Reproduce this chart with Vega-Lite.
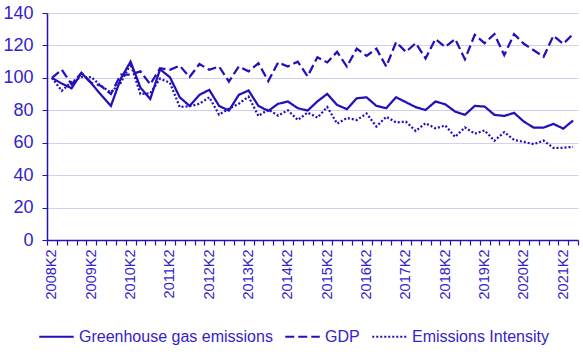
{
  "$schema": "https://vega.github.io/schema/vega-lite/v6.json",
  "width": 531,
  "height": 227,
  "autosize": {"type": "none"},
  "padding": {"left": 47, "top": 13, "right": 5, "bottom": 120},
  "background": "white",
  "config": {"view": {"stroke": null}, "font": "Liberation Sans"},
  "data": {"values": [
    {"q": "2008K2", "Greenhouse gas emissions": 100, "GDP": 100, "Emissions Intensity": 100},
    {"q": "2008K3", "Greenhouse gas emissions": 96.5, "GDP": 105, "Emissions Intensity": 92},
    {"q": "2008K4", "Greenhouse gas emissions": 93.6, "GDP": 96, "Emissions Intensity": 97.5},
    {"q": "2009K1", "Greenhouse gas emissions": 103, "GDP": 103, "Emissions Intensity": 100.5},
    {"q": "2009K2", "Greenhouse gas emissions": 96.7, "GDP": 97, "Emissions Intensity": 100.5},
    {"q": "2009K3", "Greenhouse gas emissions": 89.5, "GDP": 95, "Emissions Intensity": 95},
    {"q": "2009K4", "Greenhouse gas emissions": 82.7, "GDP": 90, "Emissions Intensity": 91},
    {"q": "2010K1", "Greenhouse gas emissions": 99.5, "GDP": 102, "Emissions Intensity": 97},
    {"q": "2010K2", "Greenhouse gas emissions": 110, "GDP": 102, "Emissions Intensity": 108.5},
    {"q": "2010K3", "Greenhouse gas emissions": 94, "GDP": 104, "Emissions Intensity": 90},
    {"q": "2010K4", "Greenhouse gas emissions": 87, "GDP": 96, "Emissions Intensity": 90.5},
    {"q": "2011K1", "Greenhouse gas emissions": 105.3, "GDP": 106, "Emissions Intensity": 99.5},
    {"q": "2011K2", "Greenhouse gas emissions": 100.4, "GDP": 105, "Emissions Intensity": 97},
    {"q": "2011K3", "Greenhouse gas emissions": 88, "GDP": 107.5, "Emissions Intensity": 82},
    {"q": "2011K4", "Greenhouse gas emissions": 82.7, "GDP": 100.5, "Emissions Intensity": 82.5},
    {"q": "2012K1", "Greenhouse gas emissions": 89.5, "GDP": 108.5, "Emissions Intensity": 84},
    {"q": "2012K2", "Greenhouse gas emissions": 92.6, "GDP": 105, "Emissions Intensity": 88},
    {"q": "2012K3", "Greenhouse gas emissions": 82.7, "GDP": 107, "Emissions Intensity": 77.3},
    {"q": "2012K4", "Greenhouse gas emissions": 79.8, "GDP": 97.7, "Emissions Intensity": 81},
    {"q": "2013K1", "Greenhouse gas emissions": 89.5, "GDP": 107, "Emissions Intensity": 84},
    {"q": "2013K2", "Greenhouse gas emissions": 92.2, "GDP": 104, "Emissions Intensity": 88.4},
    {"q": "2013K3", "Greenhouse gas emissions": 82.7, "GDP": 109, "Emissions Intensity": 76.5},
    {"q": "2013K4", "Greenhouse gas emissions": 79.6, "GDP": 98, "Emissions Intensity": 80.5},
    {"q": "2014K1", "Greenhouse gas emissions": 84, "GDP": 109.5, "Emissions Intensity": 76.7},
    {"q": "2014K2", "Greenhouse gas emissions": 85.4, "GDP": 107, "Emissions Intensity": 80},
    {"q": "2014K3", "Greenhouse gas emissions": 81.3, "GDP": 110, "Emissions Intensity": 74},
    {"q": "2014K4", "Greenhouse gas emissions": 79.8, "GDP": 101, "Emissions Intensity": 78.6},
    {"q": "2015K1", "Greenhouse gas emissions": 85.5, "GDP": 112.7, "Emissions Intensity": 75.5},
    {"q": "2015K2", "Greenhouse gas emissions": 90.1, "GDP": 109.5, "Emissions Intensity": 82},
    {"q": "2015K3", "Greenhouse gas emissions": 83.3, "GDP": 116, "Emissions Intensity": 71.8},
    {"q": "2015K4", "Greenhouse gas emissions": 80.7, "GDP": 107, "Emissions Intensity": 75.3},
    {"q": "2016K1", "Greenhouse gas emissions": 87.4, "GDP": 118, "Emissions Intensity": 74},
    {"q": "2016K2", "Greenhouse gas emissions": 88, "GDP": 113.6, "Emissions Intensity": 78},
    {"q": "2016K3", "Greenhouse gas emissions": 82.7, "GDP": 118, "Emissions Intensity": 70},
    {"q": "2016K4", "Greenhouse gas emissions": 81.3, "GDP": 107, "Emissions Intensity": 76},
    {"q": "2017K1", "Greenhouse gas emissions": 88, "GDP": 122, "Emissions Intensity": 72.5},
    {"q": "2017K2", "Greenhouse gas emissions": 85, "GDP": 116, "Emissions Intensity": 73},
    {"q": "2017K3", "Greenhouse gas emissions": 81.9, "GDP": 121.4, "Emissions Intensity": 67.2},
    {"q": "2017K4", "Greenhouse gas emissions": 80.2, "GDP": 112, "Emissions Intensity": 72},
    {"q": "2018K1", "Greenhouse gas emissions": 85.4, "GDP": 124, "Emissions Intensity": 68.9},
    {"q": "2018K2", "Greenhouse gas emissions": 83.7, "GDP": 119, "Emissions Intensity": 70.6},
    {"q": "2018K3", "Greenhouse gas emissions": 79.2, "GDP": 124, "Emissions Intensity": 63.6},
    {"q": "2018K4", "Greenhouse gas emissions": 77.2, "GDP": 111.5, "Emissions Intensity": 69.4},
    {"q": "2019K1", "Greenhouse gas emissions": 82.7, "GDP": 126.5, "Emissions Intensity": 65.6},
    {"q": "2019K2", "Greenhouse gas emissions": 82.3, "GDP": 121.4, "Emissions Intensity": 67.6},
    {"q": "2019K3", "Greenhouse gas emissions": 77.2, "GDP": 127, "Emissions Intensity": 61.2},
    {"q": "2019K4", "Greenhouse gas emissions": 76.5, "GDP": 114, "Emissions Intensity": 66.5},
    {"q": "2020K1", "Greenhouse gas emissions": 78.4, "GDP": 127, "Emissions Intensity": 61.7},
    {"q": "2020K2", "Greenhouse gas emissions": 73, "GDP": 121, "Emissions Intensity": 60.5},
    {"q": "2020K3", "Greenhouse gas emissions": 69.3, "GDP": 117, "Emissions Intensity": 59.1},
    {"q": "2020K4", "Greenhouse gas emissions": 69.3, "GDP": 113, "Emissions Intensity": 61.3},
    {"q": "2021K1", "Greenhouse gas emissions": 71.6, "GDP": 126, "Emissions Intensity": 56.8},
    {"q": "2021K2", "Greenhouse gas emissions": 68.7, "GDP": 121, "Emissions Intensity": 56.9},
    {"q": "2021K3", "Greenhouse gas emissions": 73.7, "GDP": 127, "Emissions Intensity": 57.5}
  ]},
  "transform": [
    {"fold": ["Greenhouse gas emissions", "GDP", "Emissions Intensity"], "as": ["series", "value"]}
  ],
  "mark": {"type": "line", "color": "#2211BB", "strokeWidth": 2.25},
  "encoding": {
    "x": {
      "field": "q",
      "type": "ordinal",
      "sort": null,
      "scale": {"type": "band", "paddingInner": 0, "paddingOuter": 0},
      "axis": {
        "title": null,
        "tickBand": "extent",
        "labelAngle": -90,
        "labelExpr": "test(/K2/, '' + datum.value) ? datum.label : ''",
        "labelOverlap": false,
        "labelFont": "Liberation Sans",
        "labelFontSize": 14.5,
        "labelColor": "#3322CC",
        "labelPadding": 4,
        "tickSize": 5,
        "tickColor": "#2211BB",
        "domainColor": "#2211BB",
        "domainWidth": 1.5,
        "tickWidth": 1.2,
        "grid": false
      }
    },
    "y": {
      "field": "value",
      "type": "quantitative",
      "scale": {"domain": [0, 140], "nice": false},
      "axis": {
        "title": null,
        "values": [0, 20, 40, 60, 80, 100, 120, 140],
        "grid": true,
        "gridColor": "#D2D0EE",
        "gridWidth": 1.2,
        "labelFont": "Liberation Sans",
        "labelFontSize": 18,
        "labelColor": "#3322CC",
        "labelPadding": 9,
        "tickSize": 5,
        "tickColor": "#2211BB",
        "domainColor": "#2211BB",
        "domainWidth": 1.5
      }
    },
    "strokeDash": {
      "field": "series",
      "type": "nominal",
      "scale": {
        "domain": ["Greenhouse gas emissions", "GDP", "Emissions Intensity"],
        "range": [[1, 0], [9, 4], [2, 2]]
      },
      "legend": {
        "title": null,
        "orient": "none",
        "legendX": -9,
        "legendY": 305,
        "direction": "horizontal",
        "symbolType": "stroke",
        "symbolSize": 1190,
        "symbolStrokeColor": "#2211BB",
        "symbolStrokeWidth": 2,
        "labelFont": "Liberation Sans",
        "labelFontSize": 16,
        "labelColor": "#3322CC",
        "labelOffset": 4,
        "columnPadding": 8,
        "labelLimit": 300
      }
    }
  }
}
